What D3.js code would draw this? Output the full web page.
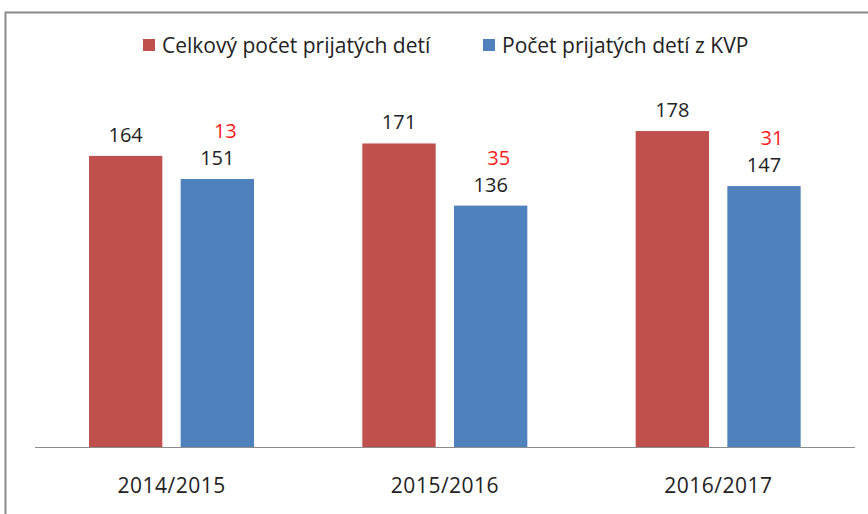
<!DOCTYPE html>
<html>
<head>
<meta charset="utf-8">
<script src="https://cdn.jsdelivr.net/npm/d3@7"></script>
<style>
  body { margin: 0; background: #fff; }
  svg { font-family: "Open Sans", "DejaVu Sans", sans-serif; }
</style>
</head>
<body>
<svg width="868" height="514"></svg>
<script>
const years = ['2014/2015', '2015/2016', '2016/2017']
const seriesNames = ['Celkový počet prijatých detí', 'Počet prijatých detí z KVP']
const totalValues = [164, 171, 178]
const kvpValues = [151, 136, 147]
const diffLabels = [13, 35, 31]
const colors = ['#c0504d', '#4f81bd']

const svg = d3.select('svg')

// frame of the chart (only top and left edges visible)
svg.append('path')
  .attr('d', 'M5.5,514 V12.5 H868')
  .attr('fill', 'none')
  .attr('stroke', '#8a8a8a')
  .attr('stroke-width', 2)

const xScale = d3.scaleBand().domain(years).range([35, 855])
const yScale = d3.scaleLinear().domain([0, 200]).range([447, 92])
const inner = d3.scaleBand().domain([0, 1]).range([54, 219]).paddingInner(0.2)

// baseline
svg.append('line')
  .attr('x1', 35).attr('x2', 855)
  .attr('y1', 447.5).attr('y2', 447.5)
  .attr('stroke', '#8c8c8c')

const groups = svg.selectAll('.grp')
  .data(years)
  .enter()
  .append('g')
  .classed('grp', true)
  .attr('transform', d => `translate(${xScale(d)},0)`)

const series = [totalValues, kvpValues]
series.forEach((vals, s) => {
  groups.append('rect')
    .attr('x', inner(s))
    .attr('width', inner.bandwidth())
    .attr('y', (d, i) => yScale(vals[i]))
    .attr('height', (d, i) => yScale(0) - yScale(vals[i]))
    .attr('fill', colors[s])

  groups.append('text')
    .attr('x', inner(s) + inner.bandwidth() / 2)
    .attr('y', (d, i) => yScale(vals[i]) - 14)
    .attr('text-anchor', 'middle')
    .attr('font-size', 20)
    .attr('fill', '#222')
    .text((d, i) => vals[i])
})

// red difference labels above the blue bar labels
groups.append('text')
  .attr('x', inner(1) + inner.bandwidth() / 2 + 8)
  .attr('y', (d, i) => yScale(kvpValues[i]) - 41)
  .attr('text-anchor', 'middle')
  .attr('font-size', 20)
  .attr('fill', '#ff1a1a')
  .text((d, i) => diffLabels[i])

// category labels
groups.append('text')
  .attr('x', xScale.bandwidth() / 2)
  .attr('y', 493)
  .attr('text-anchor', 'middle')
  .attr('font-size', 21)
  .attr('letter-spacing', 0.5)
  .attr('fill', '#222')
  .text(d => d)

// legend
const legendX = [143, 483]
seriesNames.forEach((name, s) => {
  svg.append('rect')
    .attr('x', legendX[s]).attr('y', 39)
    .attr('width', 12).attr('height', 12)
    .attr('fill', colors[s])
  svg.append('text')
    .attr('x', legendX[s] + 19).attr('y', 53)
    .attr('font-size', 21)
    .attr('fill', '#222')
    .text(name)
})
</script>
</body>
</html>
